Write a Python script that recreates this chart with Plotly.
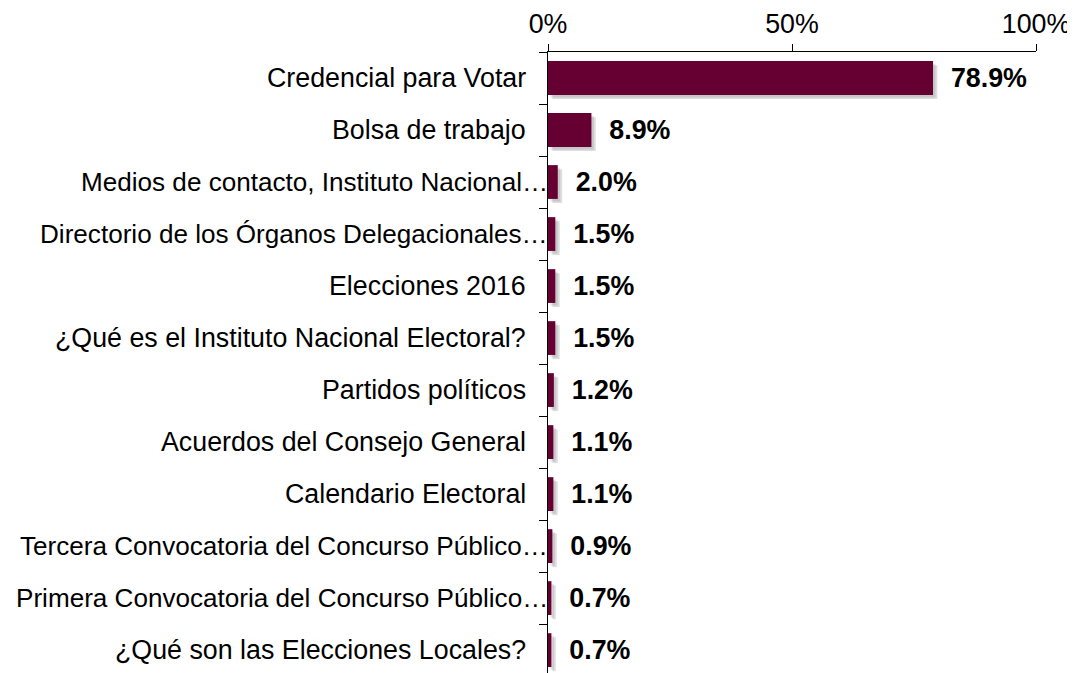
import plotly.graph_objects as go

categories = [
    "Credencial para Votar",
    "Bolsa de trabajo",
    "Medios de contacto, Instituto Nacional…",
    "Directorio de los Órganos Delegacionales…",
    "Elecciones 2016",
    "¿Qué es el Instituto Nacional Electoral?",
    "Partidos políticos",
    "Acuerdos del Consejo General",
    "Calendario Electoral",
    "Tercera Convocatoria del Concurso Público…",
    "Primera Convocatoria del Concurso Público…",
    "¿Qué son las Elecciones Locales?",
]
values = [78.9, 8.9, 2.0, 1.5, 1.5, 1.5, 1.2, 1.1, 1.1, 0.9, 0.7, 0.7]
tick_values = [0, 50, 100]
tick_labels = ["0%", "50%", "100%"]

FONT = "Liberation Sans, Arial, sans-serif"
FS = 26.8
BAR_COLOR = "#660033"

fig = go.Figure()

# soft drop shadow
fig.add_trace(go.Bar(
    y=categories, x=values, base=0.9, orientation="h",
    width=0.65, offset=-0.325 + 0.08,
    marker=dict(color="rgba(0,0,0,0.13)", line=dict(width=0)),
    hoverinfo="skip", showlegend=False,
))
fig.add_trace(go.Bar(
    y=categories, x=values, base=0.5, orientation="h",
    width=0.65, offset=-0.325 + 0.05,
    marker=dict(color="rgba(0,0,0,0.10)", line=dict(width=0)),
    hoverinfo="skip", showlegend=False,
))

fig.add_trace(go.Bar(
    y=categories, x=values, orientation="h",
    width=0.65,
    marker=dict(color=BAR_COLOR, line=dict(width=0)),
    text=[f"\u00a0\u00a0{v:.1f}%" for v in values],
    textposition="outside",
    constraintext="none",
    cliponaxis=False,
    textfont=dict(family=FONT, size=FS, color="black", weight="bold"),
    showlegend=False,
))

# category labels (truncated ones run up to the axis, as in the original)
for cat in categories:
    truncated = cat.endswith("…")
    fig.add_annotation(
        xref="paper", yref="y", x=0, y=cat,
        text=cat, showarrow=False, xanchor="right", yanchor="middle",
        xshift=2 if truncated else -20,
        font=dict(family=FONT, size=26.1 if truncated else FS, color="black"),
    )

fig.update_layout(
    width=1067, height=665,
    barmode="overlay",
    paper_bgcolor="white", plot_bgcolor="white",
    margin=dict(l=540, r=39, t=44, b=0, autoexpand=False),
    font=dict(family=FONT, size=FS, color="black"),
    xaxis=dict(
        side="top", range=[0, 100],
        tickvals=tick_values, ticktext=tick_labels,
        ticks="outside", ticklen=7, tickcolor="black", tickwidth=1,
        showline=True, linecolor="black", linewidth=1,
        showgrid=False, zeroline=False,
        tickfont=dict(family=FONT, size=FS, color="black"),
    ),
    yaxis=dict(
        type="category",
        range=[11.44, -0.5],
        ticks="outside", ticklen=8, tickcolor="black", tickwidth=1,
        tickson="boundaries",
        showline=True, linecolor="black", linewidth=1,
        showgrid=False, zeroline=False,
        showticklabels=False,
    ),
)

fig.write_html("out.html")
